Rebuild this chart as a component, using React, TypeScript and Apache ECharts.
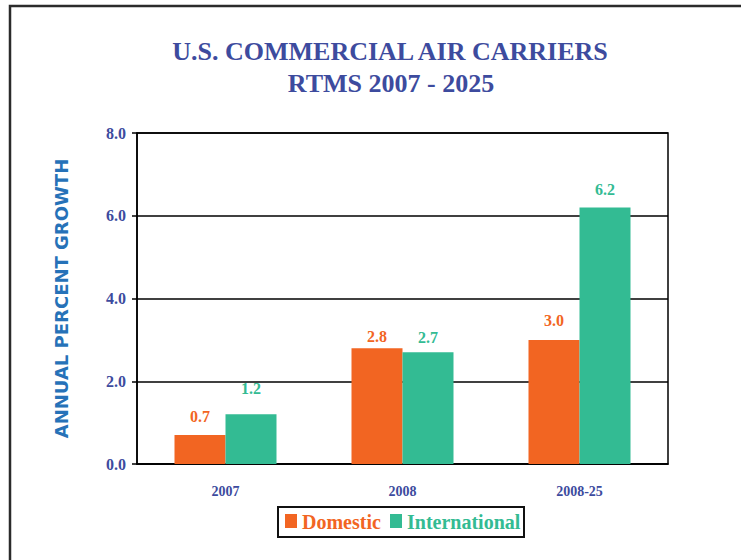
import React, { useEffect, useRef } from "react";
import * as echarts from "echarts";

const categories = ["2007", "2008", "2008-25"];
const seriesNames = ["Domestic", "International"];
const domestic = [0.7, 2.8, 3.0];
const international = [1.2, 2.7, 6.2];
const yTicks = [0, 2, 4, 6, 8];
const titleLines = ["U.S. COMMERCIAL AIR CARRIERS", "RTMS 2007 - 2025"];
const yAxisTitle = "ANNUAL PERCENT GROWTH";

const ORANGE = "#F26522";
const TEAL = "#33BB93";
const NAVY = "#3D4B9E";

// label lift above bar tops (px), style only
const domLift = [11, 4, 11];
const intLift = [18, 7, 10];

export default function App() {
  const ref = useRef<HTMLDivElement>(null);
  useEffect(() => {
    if (!ref.current) return;
    const chart = echarts.init(ref.current, null, { renderer: "svg" });
    const serif = "Liberation Serif";
    const mkData = (vals: number[], lifts: number[], color: string) =>
      vals.map((v, i) => ({
        value: v,
        label: {
          show: true,
          position: "top",
          distance: lifts[i],
          formatter: (p: any) => Number(p.value).toFixed(1),
          color,
          fontFamily: serif,
          fontWeight: "bold",
          fontSize: 16,
        },
      }));
    const legendFont = `bold 20px ${serif}`;
    chart.setOption({
      animation: false,
      backgroundColor: "#fff",
      graphic: [
        {
          type: "rect",
          shape: { x: 10, y: 6, width: 800, height: 620 },
          style: { fill: "none", stroke: "#2b2b2b", lineWidth: 2.5 },
          silent: true,
        },
        {
          type: "text",
          x: 390,
          y: 51,
          style: {
            text: titleLines[0],
            fill: NAVY,
            font: `bold 26px ${serif}`,
            align: "center",
            verticalAlign: "middle",
          },
        },
        {
          type: "text",
          x: 391,
          y: 83,
          style: {
            text: titleLines[1],
            fill: NAVY,
            font: `bold 26px ${serif}`,
            align: "center",
            verticalAlign: "middle",
          },
        },
        {
          type: "group",
          x: 278,
          y: 507,
          children: [
            {
              type: "rect",
              shape: { x: 0, y: 0, width: 246, height: 30 },
              style: { fill: "#fff", stroke: "#111", lineWidth: 2 },
            },
            {
              type: "rect",
              shape: { x: 7, y: 7, width: 12, height: 14 },
              style: { fill: ORANGE },
            },
            {
              type: "text",
              x: 24,
              y: 15,
              style: {
                text: seriesNames[0],
                fill: ORANGE,
                font: legendFont,
                align: "left",
                verticalAlign: "middle",
              },
            },
            {
              type: "rect",
              shape: { x: 112, y: 7, width: 12, height: 14 },
              style: { fill: TEAL },
            },
            {
              type: "text",
              x: 129,
              y: 15,
              style: {
                text: seriesNames[1],
                fill: TEAL,
                font: legendFont,
                align: "left",
                verticalAlign: "middle",
              },
            },
          ],
        },
      ],
      grid: {
        left: 137,
        right: 73,
        top: 133,
        bottom: 96,
        show: true,
        borderColor: "#000",
        borderWidth: 1.5,
        containLabel: false,
      },
      xAxis: {
        type: "category",
        data: categories,
        axisTick: { show: false },
        axisLine: { lineStyle: { color: "#000", width: 1.5 } },
        axisLabel: {
          color: NAVY,
          fontFamily: serif,
          fontWeight: "bold",
          fontSize: 14,
          margin: 20,
        },
      },
      yAxis: {
        type: "value",
        min: yTicks[0],
        max: yTicks[yTicks.length - 1],
        interval: 2,
        name: yAxisTitle,
        nameLocation: "middle",
        nameGap: 67,
        nameRotate: 90,
        nameTextStyle: {
          color: "#2672B8",
          fontFamily: "DejaVu Sans",
          fontWeight: "bold",
          fontSize: 18,
        },
        axisLine: { show: true, lineStyle: { color: "#000", width: 1.5 } },
        axisTick: { show: true, length: 5, lineStyle: { color: "#000", width: 1.5 } },
        axisLabel: {
          color: NAVY,
          fontFamily: serif,
          fontWeight: "bold",
          fontSize: 16,
          margin: 11,
          formatter: (v: number) => v.toFixed(1),
        },
        splitLine: { lineStyle: { color: "#000", width: 1.5 } },
      },
      series: [
        {
          name: seriesNames[0],
          type: "bar",
          barWidth: 51,
          barGap: "0%",
          itemStyle: { color: ORANGE },
          data: mkData(domestic, domLift, ORANGE),
        },
        {
          name: seriesNames[1],
          type: "bar",
          barWidth: 51,
          barGap: "0%",
          itemStyle: { color: TEAL },
          data: mkData(international, intLift, TEAL),
        },
      ],
    });
    return () => chart.dispose();
  }, []);
  return (
    <div
      ref={ref}
      style={{ position: "fixed", left: 0, top: 0, width: 741, height: 560 }}
    />
  );
}
